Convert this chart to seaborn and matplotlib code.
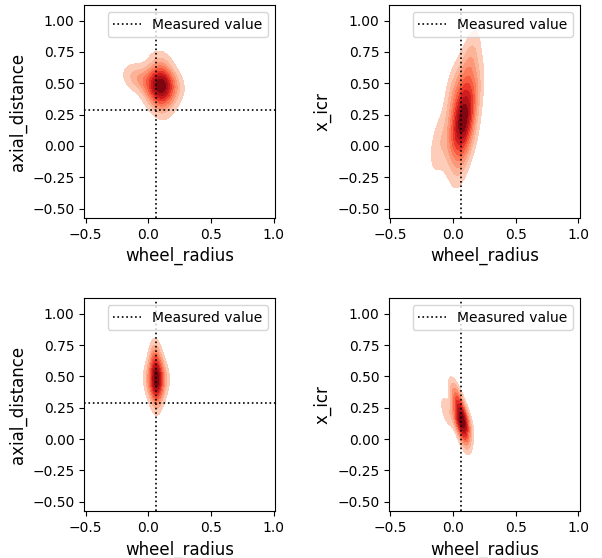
import numpy as np
import matplotlib
matplotlib.use("Agg")
import matplotlib.pyplot as plt
import seaborn as sns
from matplotlib.colors import ListedColormap

# measured (reference) values
wheel_radius_meas = 0.06
axial_distance_meas = 0.29

# posterior samples, top row
wr_top_a = [0.10, 0.10, 0.15, 0.05, 0.10, 0.10, 0.15, 0.05, 0.15, 0.05,
            0.10, 0.10, 0.20, 0.00, 0.125, 0.075, -0.05, -0.12, 0.125, 0.075]
ad_top = [0.48, 0.48, 0.48, 0.48, 0.57, 0.39, 0.57, 0.39, 0.39, 0.57,
          0.67, 0.30, 0.48, 0.48, 0.53, 0.43, 0.54, 0.55, 0.43, 0.53]
wr_top_b = [0.08, 0.08, 0.08, 0.08, 0.13, 0.03, 0.09, 0.07, 0.13, 0.03,
            0.03, 0.13, 0.11, 0.06, 0.14, -0.01, -0.11, 0.01, 0.17, 0.08]
xicr_top = [0.22, 0.22, 0.30, 0.14, 0.22, 0.22, 0.42, 0.02, 0.35, 0.10,
            0.35, 0.10, 0.55, -0.10, 0.70, 0.05, 0.02, 0.45, 0.45, 0.18]

# posterior samples, bottom row
wr_bot_a = [0.065, 0.065, 0.10, 0.03, 0.065, 0.065, 0.10, 0.03, 0.10, 0.03,
            0.065, 0.065, 0.135, -0.005, 0.08, 0.05, 0.08, 0.05, 0.045]
ad_bot = [0.48, 0.48, 0.48, 0.48, 0.58, 0.38, 0.58, 0.38, 0.38, 0.58,
          0.68, 0.30, 0.48, 0.48, 0.53, 0.43, 0.43, 0.53, 0.66]
wr_bot_b = [0.07, 0.07, 0.07, 0.07, 0.10, 0.04, 0.10, 0.04, 0.085, 0.03,
            0.02, 0.11, 0.01, 0.085, -0.05, 0.055, 0.08, 0.04]
xicr_bot = [0.17, 0.17, 0.22, 0.12, 0.17, 0.17, 0.08, 0.26, 0.04, 0.32,
            0.20, 0.12, 0.38, 0.01, 0.22, 0.28, 0.07, 0.12]

panels = [
    (wr_top_a, ad_top, "axial_distance", True),
    (wr_top_b, xicr_top, "x_icr", False),
    (wr_bot_a, ad_bot, "axial_distance", True),
    (wr_bot_b, xicr_bot, "x_icr", False),
]

reds = ListedColormap(plt.cm.Reds(np.linspace(0.15, 1.0, 256)))

fig, axes = plt.subplots(2, 2, figsize=(6.02, 5.58), dpi=100)
fig.subplots_adjust(left=0.14, right=0.963, top=0.991, bottom=0.084,
                    wspace=0.6, hspace=0.377)

for ax, (xs, ys, ylab, hline) in zip(axes.flat, panels):
    sns.kdeplot(x=xs, y=ys, ax=ax, fill=True, cmap=reds, levels=10,
                thresh=0.05, bw_adjust=1.3)
    ax.axvline(wheel_radius_meas, color="black", ls=":", lw=1.2, label="Measured value")
    if hline:
        ax.axhline(axial_distance_meas, color="black", ls=":", lw=1.2)
    ax.set_xlim(-0.51, 1.01)
    ax.set_ylim(-0.575, 1.125)
    ax.set_xticks([-0.5, 0.0, 0.5, 1.0])
    ax.set_yticks([-0.5, -0.25, 0.0, 0.25, 0.5, 0.75, 1.0])
    ax.set_xlabel("wheel_radius", fontsize=12)
    ax.set_ylabel(ylab, fontsize=12)
    ax.tick_params(labelsize=10)
    ax.legend(loc="upper right", fontsize=10)

fig.savefig("out.png")
